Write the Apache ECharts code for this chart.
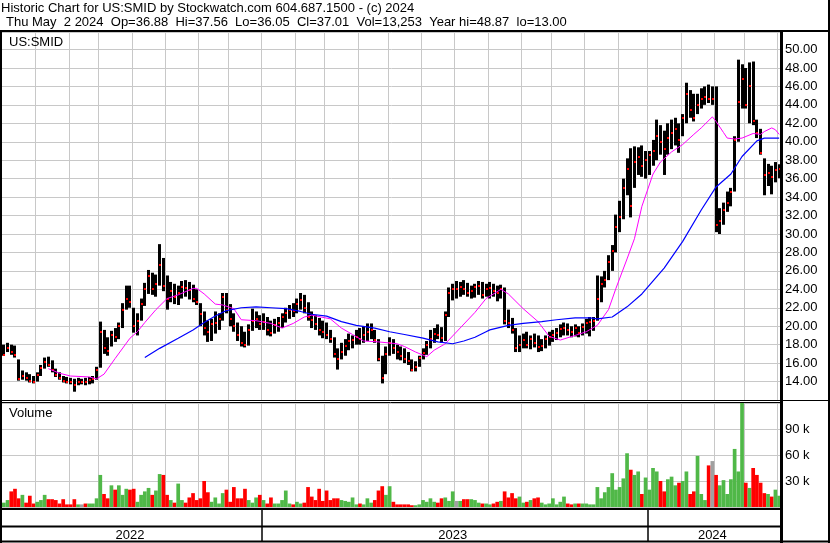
<!DOCTYPE html>
<html>
<head>
<meta charset="utf-8">
<title>US:SMID historic chart</title>
<script src="https://cdn.jsdelivr.net/npm/echarts@6.0.0/dist/echarts.min.js"></script>
<style>
  html, body { margin: 0; padding: 0; background: #fff; }
  #chart { width: 830px; height: 543px; }
</style>
</head>
<body>
<div id="chart"></div>
<script>
// two bars per week (Mon / Thu), May 2022 .. May 2024
const dates = [
  '2022-05-02','2022-05-05','2022-05-09','2022-05-12','2022-05-16','2022-05-19','2022-05-23','2022-05-26','2022-05-30',
  '2022-06-02','2022-06-06','2022-06-09','2022-06-13','2022-06-16','2022-06-20','2022-06-23','2022-06-27','2022-06-30',
  '2022-07-04','2022-07-07','2022-07-11','2022-07-14','2022-07-18','2022-07-21','2022-07-25','2022-07-28',
  '2022-08-01','2022-08-04','2022-08-08','2022-08-11','2022-08-15','2022-08-18','2022-08-22','2022-08-25','2022-08-29',
  '2022-09-01','2022-09-05','2022-09-08','2022-09-12','2022-09-15','2022-09-19','2022-09-22','2022-09-26','2022-09-29',
  '2022-10-03','2022-10-06','2022-10-10','2022-10-13','2022-10-17','2022-10-20','2022-10-24','2022-10-27','2022-10-31',
  '2022-11-03','2022-11-07','2022-11-10','2022-11-14','2022-11-17','2022-11-21','2022-11-24','2022-11-28',
  '2022-12-01','2022-12-05','2022-12-08','2022-12-12','2022-12-15','2022-12-19','2022-12-22','2022-12-26','2022-12-29',
  '2023-01-02','2023-01-05','2023-01-09','2023-01-12','2023-01-16','2023-01-19','2023-01-23','2023-01-26','2023-01-30',
  '2023-02-02','2023-02-06','2023-02-09','2023-02-13','2023-02-16','2023-02-20','2023-02-23','2023-02-27',
  '2023-03-02','2023-03-06','2023-03-09','2023-03-13','2023-03-16','2023-03-20','2023-03-23','2023-03-27','2023-03-30',
  '2023-04-03','2023-04-06','2023-04-10','2023-04-13','2023-04-17','2023-04-20','2023-04-24','2023-04-27',
  '2023-05-01','2023-05-04','2023-05-08','2023-05-11','2023-05-15','2023-05-18','2023-05-22','2023-05-25','2023-05-29',
  '2023-06-01','2023-06-05','2023-06-08','2023-06-12','2023-06-15','2023-06-19','2023-06-22','2023-06-26','2023-06-29',
  '2023-07-03','2023-07-06','2023-07-10','2023-07-13','2023-07-17','2023-07-20','2023-07-24','2023-07-27','2023-07-31',
  '2023-08-03','2023-08-07','2023-08-10','2023-08-14','2023-08-17','2023-08-21','2023-08-24','2023-08-28','2023-08-31',
  '2023-09-04','2023-09-07','2023-09-11','2023-09-14','2023-09-18','2023-09-21','2023-09-25','2023-09-28',
  '2023-10-02','2023-10-05','2023-10-09','2023-10-12','2023-10-16','2023-10-19','2023-10-23','2023-10-26','2023-10-30',
  '2023-11-02','2023-11-06','2023-11-09','2023-11-13','2023-11-16','2023-11-20','2023-11-23','2023-11-27','2023-11-30',
  '2023-12-04','2023-12-07','2023-12-11','2023-12-14','2023-12-18','2023-12-21','2023-12-25','2023-12-28',
  '2024-01-01','2024-01-04','2024-01-08','2024-01-11','2024-01-15','2024-01-18','2024-01-22','2024-01-25','2024-01-29',
  '2024-02-01','2024-02-05','2024-02-08','2024-02-12','2024-02-15','2024-02-19','2024-02-22','2024-02-26','2024-02-29',
  '2024-03-04','2024-03-07','2024-03-11','2024-03-14','2024-03-18','2024-03-21','2024-03-25','2024-03-28',
  '2024-04-01','2024-04-04','2024-04-08','2024-04-11','2024-04-15','2024-04-18','2024-04-22','2024-04-25','2024-04-29',
  '2024-05-02'
];

const high = [
  18.0,18.2,18.0,17.9,16.4,15.2,15.0,14.8,14.6,
  15.0,15.8,16.6,16.7,16.3,15.4,15.0,14.6,14.5,
  14.4,14.3,14.4,14.3,14.4,14.5,14.6,15.6,
  20.5,19.6,18.8,19.5,19.8,20.4,22.5,24.4,24.4,
  22.0,21.4,23.0,24.7,26.1,25.8,25.6,28.9,27.4,
  25.5,24.8,24.6,24.4,24.9,25.0,24.8,24.5,24.0,
  22.5,21.6,20.6,20.8,21.6,21.4,23.6,23.6,
  22.4,21.4,20.4,20.0,19.4,20.2,21.9,21.6,21.2,
  21.4,21.0,20.6,20.8,21.0,21.4,22.0,22.3,22.5,
  23.0,23.6,23.4,22.6,21.6,21.2,20.9,20.6,
  20.4,19.6,18.8,17.6,18.2,18.6,19.2,19.0,19.6,
  19.8,20.0,20.3,20.3,19.6,18.6,16.8,17.8,
  18.8,18.6,18.0,17.8,17.6,17.2,16.4,16.2,16.8,
  17.6,18.4,19.6,19.8,20.2,19.9,21.6,24.2,24.6,
  24.9,24.8,25.0,24.7,24.4,24.6,24.9,24.8,24.6,
  24.8,24.6,24.4,24.5,24.2,21.8,20.9,19.8,19.0,
  19.2,19.4,19.0,19.2,19.0,18.6,19.0,19.4,
  19.6,19.8,20.2,20.4,20.3,20.0,20.2,20.0,20.3,
  20.8,21.0,21.0,25.5,25.4,26.0,27.7,28.8,32.1,
  33.6,36.0,38.2,39.3,39.5,39.4,39.6,39.0,
  39.0,40.2,42.4,41.8,41.2,42.0,42.4,42.6,42.0,
  43.0,46.4,45.6,45.2,45.2,45.8,46.0,46.2,46.0,
  46.0,32.8,33.4,34.6,35.0,40.6,48.9,48.4,
  48.0,48.6,48.7,42.4,41.4,38.2,37.6,37.4,37.8,
  37.56
];

const low = [
  16.8,17.2,16.9,16.6,14.1,14.2,14.1,13.9,13.8,
  14.0,14.6,15.4,15.6,15.0,14.5,14.2,13.9,13.8,
  13.7,12.9,13.6,13.7,13.6,13.7,13.8,14.2,
  15.5,17.0,16.8,17.8,18.3,18.6,19.8,21.8,22.0,
  19.3,19.0,20.6,22.2,23.5,23.4,23.2,24.4,23.8,
  21.8,22.6,22.4,22.3,23.0,23.2,22.9,22.6,22.3,
  20.0,19.0,18.3,18.4,19.2,19.6,20.6,21.4,
  20.0,19.4,18.4,17.8,17.7,17.9,19.5,19.8,19.6,
  19.6,19.0,18.9,19.2,19.4,19.8,20.4,20.8,21.0,
  21.4,21.8,21.4,20.6,19.8,19.6,19.0,18.7,
  18.6,18.2,16.6,15.3,16.4,16.8,17.4,17.6,18.0,
  18.0,18.2,18.4,18.6,18.2,16.2,13.8,14.8,
  16.8,17.0,16.4,16.3,16.0,15.8,15.1,15.1,15.6,
  16.4,16.9,17.6,18.2,18.6,18.2,18.4,21.0,22.8,
  23.0,23.2,23.4,23.2,23.0,23.1,23.4,23.0,23.2,
  23.0,23.2,22.7,23.0,20.2,19.8,19.2,17.2,17.2,
  17.6,17.6,17.5,17.7,17.2,17.3,17.6,17.9,
  18.3,18.5,18.8,19.0,19.0,18.8,18.9,18.8,19.0,
  19.2,18.9,19.5,20.6,22.6,24.2,25.0,26.0,28.0,
  30.2,31.6,34.2,31.8,35.0,36.4,36.2,36.0,
  36.4,37.4,38.0,38.6,36.4,38.6,39.2,39.6,38.8,
  40.6,42.0,42.6,42.2,43.0,43.6,44.0,44.2,44.0,
  30.2,30.0,31.0,32.4,33.0,34.6,40.0,43.6,
  43.6,42.0,41.8,40.4,38.6,34.2,35.2,34.3,35.6,
  36.05
];

const close = [
  16.9,17.6,17.2,16.9,14.3,14.6,14.4,14.1,14.0,
  14.7,15.5,16.1,15.8,15.2,14.7,14.4,14.1,14.0,
  13.9,13.6,14.0,14.0,13.9,14.2,14.3,15.3,
  19.4,17.6,17.3,19.0,18.8,20.0,21.8,23.0,22.6,
  20.0,20.6,22.4,24.0,25.4,24.0,24.6,26.6,24.4,
  23.0,23.8,23.2,23.6,24.2,24.1,23.9,23.0,22.6,
  21.3,19.8,19.4,20.2,20.3,20.8,23.2,21.8,
  20.8,20.0,19.0,18.2,18.0,19.6,20.6,20.8,20.2,
  20.5,19.6,19.3,20.1,20.3,21.0,21.4,21.8,21.6,
  22.4,22.8,22.0,21.0,20.7,20.2,19.6,19.4,
  19.0,18.6,17.0,16.4,17.2,17.9,18.4,18.5,18.8,
  18.6,19.0,19.4,19.6,18.5,16.4,14.4,17.0,
  18.2,17.6,17.2,16.8,16.4,16.2,15.3,15.6,16.5,
  17.1,18.0,18.6,19.2,19.0,18.7,21.2,23.6,24.0,
  24.0,24.3,24.0,23.6,23.8,24.2,24.4,23.4,24.0,
  24.1,23.8,23.6,24.0,20.6,20.4,19.6,17.6,18.0,
  18.5,18.0,18.6,18.2,17.8,17.9,18.6,18.8,
  19.0,19.3,19.7,19.8,19.6,19.4,19.8,19.3,19.9,
  20.4,20.5,20.6,23.0,24.6,25.0,27.0,28.2,30.8,
  31.8,35.0,37.0,33.0,37.8,38.4,37.4,38.0,
  38.6,39.0,40.6,40.0,39.2,40.4,41.0,41.4,40.2,
  42.6,45.2,43.4,42.6,44.0,44.6,44.8,44.6,44.6,
  31.0,31.4,32.6,33.4,34.6,40.2,44.3,46.8,
  44.0,46.0,42.2,41.0,38.8,36.4,36.6,36.2,36.9,
  37.01
];

// volume in thousands of shares
const volume = [
  5,8,18,21,10,14,5,13,4,
  6,8,14,9,9,8,4,9,3,
  3,9,3,3,4,4,4,10,
  37,15,10,25,20,25,14,21,20,
  21,6,14,18,22,14,19,38,37,
  14,8,5,27,8,5,11,16,8,
  10,30,17,6,11,4,16,20,
  6,23,10,10,21,8,5,11,14,
  8,4,11,4,4,8,19,4,3,
  6,4,5,23,12,8,21,7,
  19,8,10,10,8,7,6,11,3,
  4,3,10,5,8,19,24,14,
  24,6,3,3,3,3,2,2,3,
  8,6,10,6,5,10,11,7,18,
  7,7,9,9,9,8,5,4,4,
  3,4,6,7,18,11,16,10,12,
  5,6,8,10,11,5,3,4,
  10,3,6,12,4,3,4,4,4,
  4,3,3,23,10,17,23,39,20,
  23,33,62,43,37,41,15,34,
  20,45,41,30,18,32,35,25,28,
  30,41,15,18,59,15,8,48,53,
  37,25,31,15,32,67,41,122,
  28,22,45,37,28,16,15,12,20,
  13
];

// moving averages: [date, value]
const maFast = [
  ['2022-06-13',15.4],['2022-06-23',14.9],['2022-07-04',14.6],['2022-07-21',14.5],['2022-07-28',14.3],
  ['2022-08-04',14.8],['2022-08-15',16.5],['2022-08-29',18.7],['2022-09-05',19.4],['2022-09-12',20.4],
  ['2022-09-22',21.8],['2022-10-03',23.0],['2022-10-13',23.4],['2022-10-27',24.1],['2022-10-31',24.1],
  ['2022-11-07',23.5],['2022-11-17',22.4],['2022-11-24',22.3],['2022-12-05',21.9],['2022-12-12',20.7],
  ['2022-12-26',20.6],['2023-01-09',20.3],['2023-01-19',19.8],['2023-01-30',20.3],['2023-02-09',21.0],
  ['2023-02-16',21.2],['2023-03-06',20.8],['2023-03-16',19.8],['2023-03-27',19.1],['2023-04-06',18.4],
  ['2023-04-20',18.3],['2023-05-08',18.1],['2023-05-15',17.8],['2023-05-25',17.2],['2023-06-05',16.7],
  ['2023-06-12',17.4],['2023-06-22',18.1],['2023-07-06',19.8],['2023-07-20',21.5],['2023-07-31',23.0],
  ['2023-08-14',24.0],['2023-08-21',23.5],['2023-09-04',21.9],['2023-09-18',20.5],['2023-09-28',18.9],
  ['2023-10-09',18.5],['2023-10-23',19.0],['2023-11-02',19.4],['2023-11-13',20.1],['2023-11-23',21.8],
  ['2023-11-30',24.1],['2023-12-11',27.3],['2023-12-18',29.5],['2023-12-25',33.0],['2024-01-04',36.5],
  ['2024-01-11',37.8],['2024-01-22',38.9],['2024-02-01',39.7],['2024-02-12',40.8],['2024-02-19',41.5],
  ['2024-02-29',42.7],['2024-03-04',42.2],['2024-03-11',41.0],['2024-03-14',40.4],['2024-03-21',40.3],
  ['2024-03-28',40.4],['2024-04-08',40.9],['2024-04-15',40.8],['2024-04-18',41.1],['2024-04-25',41.5],
  ['2024-04-29',41.3],['2024-05-02',40.8]
];
const maSlow = [
  ['2022-09-12',16.6],['2022-09-26',17.6],['2022-10-13',18.7],['2022-10-27',19.6],['2022-11-07',20.4],
  ['2022-11-17',21.1],['2022-11-28',21.7],['2022-12-12',22.0],['2022-12-26',22.1],['2023-01-09',22.0],
  ['2023-01-23',21.9],['2023-02-06',21.6],['2023-02-16',21.3],['2023-03-02',21.1],['2023-03-16',20.5],
  ['2023-03-30',20.1],['2023-04-17',19.8],['2023-05-01',19.4],['2023-05-15',19.1],['2023-06-01',18.7],
  ['2023-06-15',18.3],['2023-06-29',18.1],['2023-07-10',18.4],['2023-07-20',18.8],['2023-07-31',19.4],
  ['2023-08-03',19.6],['2023-08-21',20.1],['2023-09-04',20.3],['2023-09-21',20.5],['2023-10-05',20.7],
  ['2023-10-23',20.9],['2023-11-06',20.9],['2023-11-13',20.8],['2023-11-27',21.0],['2023-12-11',22.1],
  ['2023-12-25',23.5],['2024-01-15',26.3],['2024-02-01',29.2],['2024-02-19',32.6],['2024-03-04',35.1],
  ['2024-03-18',36.5],['2024-03-28',38.4],['2024-04-11',40.1],['2024-04-18',40.4],['2024-05-02',40.4]
];

const yearLabels = ['2022', '2023', '2024'];
const yearLabelAt = ['2022-08-29', '2023-06-29', '2024-02-29'];

const header1 = 'Historic Chart for US:SMID by Stockwatch.com 604.687.1500 - (c) 2024';
const header2 = 'Thu May  2 2024  Op=36.88  Hi=37.56  Lo=36.05  Cl=37.01  Vol=13,253  Year hi=48.87  lo=13.00';

const FONT = 'Liberation Sans';
const GRID = '#c8c8c8';
const GREEN = '#50b848';
const RED = '#ff0000';
const GREY = '#a0a0a0';

const monthStart = i => i > 0 && dates[i].slice(0, 7) !== dates[i - 1].slice(0, 7);
const yearStart = i => i > 0 && dates[i].slice(0, 4) !== dates[i - 1].slice(0, 4);

const volColor = i => {
  if (i === 0) return GREEN;
  const d = close[i] - close[i - 1];
  return d > 0 ? GREEN : (d < 0 ? RED : GREY);
};

// high-low bar with a red close mark
function renderBar(params, api) {
  const lo = api.coord([api.value(0), api.value(1)]);
  const hi = api.coord([api.value(0), api.value(2)]);
  const cl = api.coord([api.value(0), api.value(3)]);
  const x = Math.round(hi[0] - 1.5);
  return {
    type: 'group',
    children: [
      { type: 'rect', shape: { x: x, y: hi[1], width: 3, height: Math.max(1, lo[1] - hi[1]) }, style: { fill: '#000' } },
      { type: 'rect', shape: { x: x + 1, y: Math.round(cl[1]) - 1, width: 2, height: 2 }, style: { fill: RED } }
    ]
  };
}

const xAxisFor = g => ({
  type: 'category', gridIndex: g, data: dates, boundaryGap: true,
  axisLine: { show: false }, axisTick: { show: false }, axisLabel: { show: false },
  splitLine: { show: true, interval: (i) => monthStart(i), lineStyle: { color: GRID, width: 1 } }
});

const line = (x1, y1, x2, y2, w) => ({
  type: 'line', z: 50, silent: true,
  shape: { x1: x1, y1: y1, x2: x2, y2: y2 },
  style: { stroke: '#000', lineWidth: w }
});
const text = (x, y, s) => ({
  type: 'text', z: 50, x: x, y: y,
  style: { text: s, font: '13px "' + FONT + '"', fill: '#000', verticalAlign: 'top' }
});

const chart = echarts.init(document.getElementById('chart'));
chart.setOption({
  backgroundColor: '#fff',
  animation: false,
  grid: [
    { left: 2, right: 49, top: 32, height: 368 },
    { left: 2, right: 49, top: 403, height: 104 },
    { left: 2, right: 49, top: 509, height: 33 }
  ],
  xAxis: [
    xAxisFor(0),
    xAxisFor(1),
    {
      type: 'category', gridIndex: 2, data: dates, boundaryGap: true,
      axisLine: { show: false }, axisTick: { show: false },
      axisLabel: {
        inside: true, margin: 0, fontFamily: FONT, fontSize: 13, color: '#000',
        interval: (i) => yearLabelAt.indexOf(dates[i]) >= 0,
        formatter: (v) => yearLabels[yearLabelAt.indexOf(v)]
      },
      splitLine: { show: true, interval: (i) => yearStart(i), lineStyle: { color: '#000', width: 1.5 } }
    }
  ],
  yAxis: [
    {
      type: 'value', gridIndex: 0, position: 'right', min: 12, max: 51.9, interval: 2,
      axisLine: { show: false }, axisTick: { show: false },
      splitLine: { lineStyle: { color: GRID, width: 1 } },
      axisLabel: {
        margin: 4, fontFamily: FONT, fontSize: 13, color: '#000',
        formatter: (v) => (v > 13 && v < 51) ? v.toFixed(2) : ''
      }
    },
    {
      type: 'value', gridIndex: 1, position: 'right', min: 0, max: 120, interval: 30,
      axisLine: { show: false }, axisTick: { show: false },
      splitLine: { lineStyle: { color: GRID, width: 1 } },
      axisLabel: {
        margin: 4, fontFamily: FONT, fontSize: 13, color: '#000',
        formatter: (v) => (v > 0 && v < 120) ? v + ' k' : ''
      }
    },
    { type: 'value', gridIndex: 2, min: 0, max: 1, show: false }
  ],
  series: [
    {
      type: 'custom', xAxisIndex: 0, yAxisIndex: 0, z: 2,
      renderItem: renderBar,
      encode: { x: 0, y: [1, 2, 3] },
      data: dates.map((d, i) => [d, low[i], high[i], close[i]])
    },
    {
      type: 'line', xAxisIndex: 0, yAxisIndex: 0, z: 4, data: maFast,
      symbol: 'none', lineStyle: { color: '#ff00ff', width: 1 }
    },
    {
      type: 'line', xAxisIndex: 0, yAxisIndex: 0, z: 4, data: maSlow,
      symbol: 'none', lineStyle: { color: '#0000ff', width: 1.2 }
    },
    {
      type: 'bar', xAxisIndex: 1, yAxisIndex: 1, barCategoryGap: '0%',
      data: volume.map((v, i) => ({ value: v, itemStyle: { color: volColor(i) } }))
    }
  ],
  graphic: [
    text(1, 2, header1),
    text(6, 16, header2),
    text(9, 36, 'US:SMID'),
    text(9, 407, 'Volume'),
    line(0, 31, 830, 31, 2),
    line(1, 30, 1, 543, 2),
    line(781.5, 30, 781.5, 543, 3),
    line(829, 0, 829, 543, 2),
    line(0, 400.5, 830, 400.5, 1),
    line(0, 402.5, 781, 402.5, 1),
    line(0, 509, 781, 509, 2),
    line(0, 526.5, 781, 526.5, 2),
    line(0, 541.5, 830, 541.5, 2)
  ]
});
</script>
</body>
</html>
